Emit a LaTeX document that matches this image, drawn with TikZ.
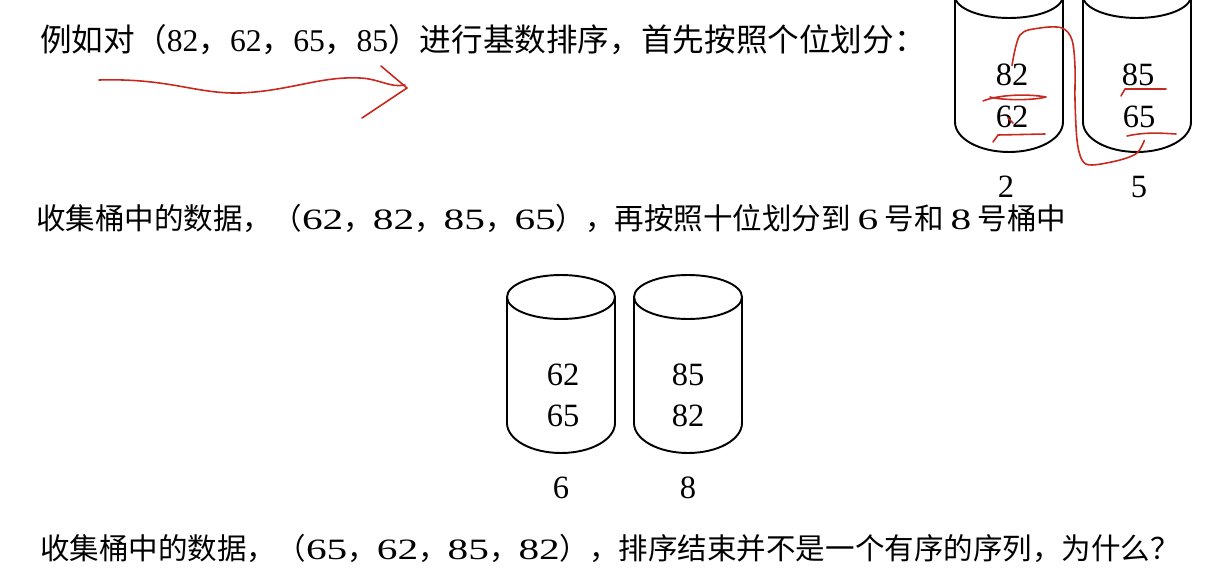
\documentclass[tikz,border=0pt]{standalone}
\usepackage{fontspec}
\setmainfont{Liberation Serif}
\newfontfamily\cjk{Noto Sans CJK SC}
\newfontfamily\widenum[FakeStretch=1.4]{Liberation Serif}
\usetikzlibrary{positioning}
\definecolor{ink}{RGB}{200,40,30}
\newcommand\nm[1]{{\rmfamily #1}}
\newcommand\wn[1]{{\widenum #1}}
\tikzset{
  textline/.style={font=\cjk\fontsize{18}{20}\selectfont, anchor=west, inner sep=0pt},
  num/.style={font=\fontsize{18.5}{20}\selectfont, inner sep=1pt},
  bucket/.style={line width=1.1pt},
  scribble/.style={draw=ink, line width=0.9pt, line cap=round, line join=round},
}

\begin{document}
\begin{tikzpicture}[x=0.02cm, y=-0.02cm]
  \clip (0,0) rectangle (1224,575);
  \fill[white] (0,0) rectangle (1224,575);

  % buckets: centre x / top y / bottom y
  \foreach \cx/\ct/\cb in {1009/-4/122, 1137/-4/122, 561/297/423, 688/297/423}{
    \draw[bucket] (\cx-54,\ct) -- (\cx-54,\cb) arc[start angle=180, end angle=360, x radius=1.08cm, y radius=0.6cm] -- (\cx+54,\ct);
    \draw[bucket] (\cx,\ct) ellipse[x radius=1.08cm, y radius=0.44cm];
  }

  \node[textline] (first) at (40,40) {例如对（\nm{82}，\nm{62}，\nm{65}，\nm{85}）进行基数排序，首先按照个位划分：};
  \node[textline, font=\cjk\fontsize{16.8}{20}\selectfont] (second) at (36,218) {收集桶中的数据，（\wn{62}，\wn{82}，\wn{85}，\wn{65}），再按照十位划分到 \wn{6} 号和 \wn{8} 号桶中};
  \node[textline, font=\cjk\fontsize{16.8}{20}\selectfont] (third) at (40,548) {收集桶中的数据，（\wn{65}，\wn{62}，\wn{85}，\wn{82}），排序结束并不是一个有序的序列，为什么？};

  % units
  \node[num] (u82) at (1012,75) {82};
  \node[num] (u62) at (1012,117) {62};
  \node[num] (u85) at (1138,75) {85};
  \node[num] (u65) at (1139,117) {65};
  \node[num] (k2) at (1006,187) {2};
  \node[num] (k5) at (1139,187) {5};

  % tens
  \node[num] (t62) at (563,375) {62};
  \node[num] (t65) at (563,416) {65};
  \node[num] (t85) at (688,375) {85};
  \node[num] (t82) at (688,416) {82};
  \node[num] (k6) at (561,488) {6};
  \node[num] (k8) at (688,488) {8};

  % red pen
  \draw[scribble] (99,80) .. controls (170,78) and (195,94) .. (240,93) .. controls (290,91) and (320,76) .. (360,78) .. controls (380,79) and (390,88) .. (405,85);
  \draw[scribble] (381,66) -- (407,88) -- (362,118);
  \draw[scribble] plot[smooth, tension=0.55] coordinates {([yshift=-2pt]u82.north) (1020,35) (1040,28) (1062,28) (1072,40) (1075,67) (1075,100) (1077,140) (1082,160) (1092,165) (1120,160) (1137,153) ([shift={(3pt,-6pt)}]u65.south)};
  \draw[scribble] (983,101) .. controls (1000,94) and (1030,94) .. (1046,97) .. controls (1030,101) and (1000,100) .. (990,97);
  \draw[scribble] (993,142) -- (998,135) -- (1045,134);
  \draw[scribble] (1008,118) -- (1013,123);
  \draw[scribble] (1121,96) -- (1125,89) -- (1166,89);
  \draw[scribble] (1127,136) .. controls (1145,132) and (1160,133) .. (1176,134);
\end{tikzpicture}
\end{document}
